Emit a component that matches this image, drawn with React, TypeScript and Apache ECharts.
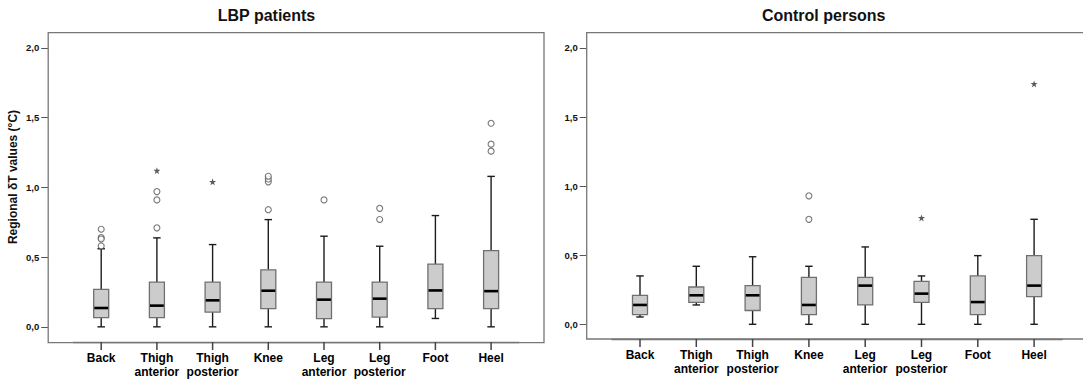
import React, { useEffect, useRef } from "react";
import * as echarts from "echarts";

const categories = [
  "Back",
  "Thigh\nanterior",
  "Thigh\nposterior",
  "Knee",
  "Leg\nanterior",
  "Leg\nposterior",
  "Foot",
  "Heel",
];
const yTicks = [0, 0.5, 1, 1.5, 2];

// LBP patients
const lbpLow = [0, 0, 0, 0, 0, 0, 0.06, 0];
const lbpQ1 = [0.066, 0.066, 0.106, 0.13, 0.059, 0.07, 0.13, 0.13];
const lbpMedian = [0.135, 0.152, 0.19, 0.259, 0.195, 0.202, 0.261, 0.256];
const lbpQ3 = [0.268, 0.321, 0.321, 0.409, 0.321, 0.321, 0.45, 0.547];
const lbpHigh = [0.56, 0.638, 0.59, 0.769, 0.65, 0.578, 0.798, 1.079];
const lbpOutliers = [
  [0, 0.7], [0, 0.64], [0, 0.63], [0, 0.58],
  [1, 0.71], [1, 0.91], [1, 0.97],
  [3, 0.84], [3, 1.04], [3, 1.06], [3, 1.08],
  [4, 0.91],
  [5, 0.77], [5, 0.85],
  [7, 1.26], [7, 1.31], [7, 1.46],
];
const lbpExtremes = [[1, 1.12], [2, 1.04]];

// Control persons
const ctrlLow = [0.053, 0.14, 0, 0, 0, 0, 0, 0];
const ctrlQ1 = [0.07, 0.159, 0.1, 0.07, 0.14, 0.159, 0.07, 0.2];
const ctrlMedian = [0.14, 0.21, 0.21, 0.14, 0.28, 0.222, 0.161, 0.28];
const ctrlQ3 = [0.21, 0.27, 0.28, 0.34, 0.34, 0.311, 0.35, 0.497];
const ctrlHigh = [0.35, 0.42, 0.489, 0.42, 0.56, 0.35, 0.497, 0.76];
const ctrlOutliers = [[3, 0.76], [3, 0.93]];
const ctrlExtremes = [[5, 0.77], [7, 1.74]];

const FONT = '"Liberation Sans", Arial, sans-serif';
const STAR =
  "path://M0,-10 L2.35,-3.24 9.51,-3.09 3.8,1.24 5.88,8.09 0,4 -5.88,8.09 -3.8,1.24 -9.51,-3.09 -2.35,-3.24Z";

const boxRows = (lo: number[], q1: number[], md: number[], q3: number[], hi: number[]) =>
  categories.map((_, i) => [i, lo[i], q1[i], md[i], q3[i], hi[i]]);

const renderBox = (params: any, api: any) => {
  const idx = api.value(0);
  const low = api.coord([idx, api.value(1)]);
  const q1 = api.coord([idx, api.value(2)]);
  const med = api.coord([idx, api.value(3)]);
  const q3 = api.coord([idx, api.value(4)]);
  const high = api.coord([idx, api.value(5)]);
  const cx = low[0];
  const bw = 15;
  const cw = 7.5;
  const wStyle = { stroke: "#1c1c1c", lineWidth: 1.4 };
  return {
    type: "group",
    children: [
      { type: "line", shape: { x1: cx, y1: q3[1], x2: cx, y2: high[1] }, style: wStyle },
      { type: "line", shape: { x1: cx, y1: q1[1], x2: cx, y2: low[1] }, style: wStyle },
      { type: "line", shape: { x1: cx - cw / 2, y1: high[1], x2: cx + cw / 2, y2: high[1] }, style: wStyle },
      { type: "line", shape: { x1: cx - cw / 2, y1: low[1], x2: cx + cw / 2, y2: low[1] }, style: wStyle },
      {
        type: "rect",
        shape: { x: cx - bw / 2, y: q3[1], width: bw, height: q1[1] - q3[1] },
        style: { fill: "#cccccc", stroke: "#707070", lineWidth: 1.3 },
      },
      {
        type: "line",
        shape: { x1: cx - bw / 2 + 0.6, y1: med[1], x2: cx + bw / 2 - 0.6, y2: med[1] },
        style: { stroke: "#000", lineWidth: 2.6 },
      },
    ],
  };
};

// grid spans the frame vertically; yMin/yMax put 0 and 2 at the reference positions
const panels = [
  { gridLeft: 73.35, gridWidth: 445.6, frameLeft: 48.2, frameTop: 32.7, frameW: 495.8, frameBottom: 342.7, yMin: -0.1088, yMax: 2.1095 },
  { gridLeft: 611.85, gridWidth: 450.4, frameLeft: 586.7, frameTop: 32.7, frameW: 600, frameBottom: 339, yMin: -0.1064, yMax: 2.1107 },
];

export default function App() {
  const ref = useRef<HTMLDivElement>(null);
  useEffect(() => {
    document.body.style.margin = "0";
    if (!ref.current) return;
    const chart = echarts.init(ref.current, undefined, { renderer: "svg" });

    const grids = panels.map((p) => ({
      left: p.gridLeft,
      top: p.frameTop,
      width: p.gridWidth,
      height: p.frameBottom - p.frameTop,
      containLabel: false,
    }));
    const xAxes = panels.map((p, i) => ({
      type: "category",
      gridIndex: i,
      data: categories,
      position: "bottom",
      axisLine: { show: true, onZero: false, lineStyle: { color: "#777", width: 1.3 } },
      axisTick: { show: false },
      axisLabel: {
        interval: 0,
        color: "#000",
        fontFamily: FONT,
        fontWeight: "bold",
        fontSize: 12,
        lineHeight: 14,
        margin: 9,
      },
      splitLine: { show: false },
    }));
    const yAxes = panels.map((p, i) => ({
      type: "value",
      gridIndex: i,
      min: p.yMin,
      max: p.yMax,
      position: "left",
      offset: p.gridLeft - p.frameLeft,
      axisLine: { show: false, onZero: false },
      axisTick: { show: true, length: 7, customValues: yTicks, lineStyle: { color: "#555", width: 1 } },
      axisLabel: {
        customValues: yTicks,
        color: "#111",
        fontFamily: FONT,
        fontWeight: "bold",
        fontSize: 9.5,
        margin: 9,
        formatter: (v: number) => v.toFixed(1).replace(".", ","),
      },
      splitLine: { show: false },
    }));

    const sets = [
      { rows: boxRows(lbpLow, lbpQ1, lbpMedian, lbpQ3, lbpHigh), out: lbpOutliers, ext: lbpExtremes },
      { rows: boxRows(ctrlLow, ctrlQ1, ctrlMedian, ctrlQ3, ctrlHigh), out: ctrlOutliers, ext: ctrlExtremes },
    ];
    const series: any[] = [];
    sets.forEach((s, i) => {
      series.push({
        type: "custom",
        xAxisIndex: i,
        yAxisIndex: i,
        renderItem: renderBox,
        encode: { x: 0, y: [1, 2, 3, 4, 5] },
        data: s.rows,
        z: 2,
      });
      series.push({
        type: "scatter",
        xAxisIndex: i,
        yAxisIndex: i,
        symbol: "circle",
        symbolSize: 6,
        itemStyle: { color: "#fff", borderColor: "#555", borderWidth: 1.1 },
        data: s.out,
        z: 3,
      });
      series.push({
        type: "scatter",
        xAxisIndex: i,
        yAxisIndex: i,
        symbol: STAR,
        symbolSize: 7,
        itemStyle: { color: "#333" },
        data: s.ext,
        z: 3,
      });
    });

    const graphic: any[] = [];
    panels.forEach((p) => {
      graphic.push({
        type: "rect",
        shape: { x: p.frameLeft, y: p.frameTop, width: p.frameW, height: p.frameBottom - p.frameTop },
        style: { fill: "none", stroke: "#777", lineWidth: 1.3 },
        z: 1,
        silent: true,
      });
    });
    graphic.push({
      type: "text",
      x: 266.5,
      y: 15.5,
      style: { text: "LBP patients", fontFamily: FONT, fontWeight: "bold", fontSize: 16, fill: "#111", align: "center", verticalAlign: "middle" },
    });
    graphic.push({
      type: "text",
      x: 823.7,
      y: 15,
      style: { text: "Control persons", fontFamily: FONT, fontWeight: "bold", fontSize: 16, fill: "#111", align: "center", verticalAlign: "middle" },
    });
    graphic.push({
      type: "text",
      x: 13,
      y: 177,
      rotation: Math.PI / 2,
      style: { text: "Regional δT values (°C)", fontFamily: FONT, fontWeight: "bold", fontSize: 12, fill: "#111", align: "center", verticalAlign: "middle" },
    });

    chart.setOption({
      animation: false,
      backgroundColor: "#fff",
      grid: grids,
      xAxis: xAxes,
      yAxis: yAxes,
      series,
      graphic,
    });

    // category tick marks below each frame, positioned through the box series' coordinate system
    const tickLines: any[] = [];
    panels.forEach((p, i) => {
      categories.forEach((_, k) => {
        const pt = chart.convertToPixel({ seriesIndex: i * 3 }, [k, p.yMin]) as any;
        if (!Array.isArray(pt) || !isFinite(pt[0]) || !isFinite(pt[1])) return;
        tickLines.push({
          type: "line",
          shape: { x1: pt[0], y1: pt[1], x2: pt[0], y2: pt[1] + 8 },
          style: { stroke: "#444", lineWidth: 1.5 },
          silent: true,
          z: 5,
        });
      });
    });
    chart.setOption({ graphic: [...graphic, ...tickLines] });

    return () => chart.dispose();
  }, []);
  return <div ref={ref} style={{ width: 1083, height: 379 }} />;
}
